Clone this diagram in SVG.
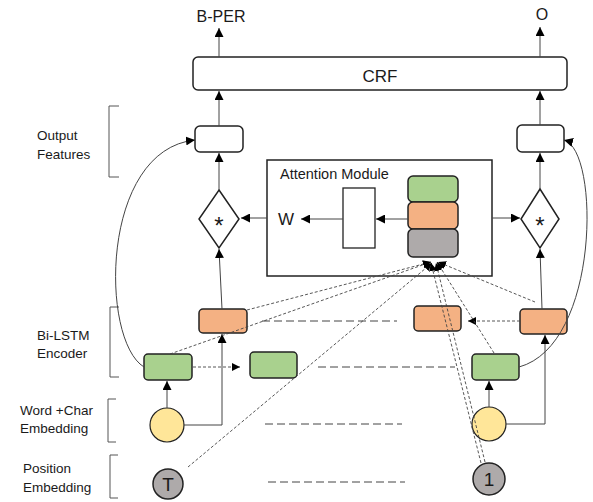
<svg xmlns="http://www.w3.org/2000/svg" width="593" height="502" viewBox="0 0 593 502">
<defs>
<marker id="ah" markerUnits="userSpaceOnUse" markerWidth="9" markerHeight="9" refX="9" refY="4.5" orient="auto"><path d="M0,0 L9,4.5 L0,9 z" fill="#000"/></marker>
<marker id="ahs" markerUnits="userSpaceOnUse" markerWidth="8" markerHeight="8" refX="8" refY="4" orient="auto"><path d="M0,0 L8,4 L0,8 z" fill="#000"/></marker>
<style>
text{font-family:"Liberation Sans",Arial,sans-serif;fill:#1a1a1a}
.lbl{font-size:13.5px}
.box{fill:#fff;stroke:#222;stroke-width:1.5}
.g{fill:#A9D18E;stroke:#222;stroke-width:1.5}
.o{fill:#F4B183;stroke:#222;stroke-width:1.5}
.gy{fill:#AEAAAA;stroke:#222;stroke-width:1.5}
.y{fill:#FFE699;stroke:#222;stroke-width:1.2}
.ar{fill:none;stroke:#444;stroke-width:1;marker-end:url(#ah)}
.dar{fill:none;stroke:#444;stroke-width:0.9;stroke-dasharray:3 2;marker-end:url(#ahs)}
.lng{fill:none;stroke:#444;stroke-width:1;stroke-dasharray:8 4}
.br{fill:none;stroke:#555;stroke-width:1}
</style>
</defs>

<g id="labels">
<text class="lbl" x="37" y="140">Output</text>
<text class="lbl" x="37" y="159">Features</text>
<path class="br" d="M119,106 H109 V177 H119"/>
<text class="lbl" x="37" y="340">Bi-LSTM</text>
<text class="lbl" x="37" y="358">Encoder</text>
<path class="br" d="M119,307 H110 V377 H119"/>
<text class="lbl" x="20" y="415">Word +Char</text>
<text class="lbl" x="20" y="433">Embedding</text>
<path class="br" d="M116,399 H108 V442 H116"/>
<text class="lbl" x="23" y="473">Position</text>
<text class="lbl" x="23" y="492">Embedding</text>
<path class="br" d="M118,455 H110 V498 H118"/>
</g>

<g id="b-per"><text x="221" y="22" font-size="16" text-anchor="middle">B-PER</text></g>
<g id="o-label"><text x="542" y="20" font-size="16" text-anchor="middle">O</text></g>

<g id="crf">
<rect class="box" x="193" y="57" width="374" height="33" rx="5"/>
<text x="380" y="82" font-size="17" text-anchor="middle">CRF</text>
</g>

<g id="out-left"><rect class="box" x="195" y="126" width="48" height="26" rx="5"/></g>
<g id="out-right"><rect class="box" x="517" y="125" width="47" height="27" rx="5"/></g>

<g id="mult-left">
<path class="box" d="M219,190 L239,219 L219,248 L199,219 z"/>
<text x="219" y="234" font-size="24" text-anchor="middle">*</text>
</g>
<g id="mult-right">
<path class="box" d="M540,189 L559,219 L540,248 L521,219 z"/>
<text x="540" y="234" font-size="24" text-anchor="middle">*</text>
</g>

<g id="attention">
<rect x="267" y="160" width="225" height="116" fill="#fff" stroke="#222" stroke-width="1.5"/>
<text x="280" y="179" font-size="14.5">Attention Module</text>
<text x="278" y="225" font-size="17">W</text>
<rect x="343" y="188" width="32" height="60" fill="#fff" stroke="#222" stroke-width="1.3"/>
<rect class="g" x="408" y="176" width="50" height="26" rx="5"/>
<rect class="o" x="408" y="202" width="50" height="27" rx="5"/>
<rect class="gy" x="408" y="229" width="50" height="28" rx="5"/>
</g>

<g id="lstm-b-left"><rect class="o" x="199" y="309" width="48" height="24" rx="4"/></g>
<g id="lstm-b-mid"><rect class="o" x="414" y="306" width="47" height="25" rx="4"/></g>
<g id="lstm-b-right"><rect class="o" x="520" y="309" width="47" height="25" rx="4"/></g>
<g id="lstm-f-left"><rect class="g" x="144" y="354" width="48" height="26" rx="4"/></g>
<g id="lstm-f-mid"><rect class="g" x="250" y="352" width="47" height="26" rx="4"/></g>
<g id="lstm-f-right"><rect class="g" x="472" y="354" width="47" height="26" rx="4"/></g>

<g id="emb-left"><circle class="y" cx="167" cy="425" r="17"/></g>
<g id="emb-right"><circle class="y" cx="489" cy="424" r="17"/></g>

<g id="pos-t">
<circle class="gy" cx="168" cy="484" r="15"/>
<text x="168" y="491" font-size="19" text-anchor="middle">T</text>
</g>
<g id="pos-1">
<circle class="gy" cx="489" cy="479" r="16"/>
<text x="489" y="486" font-size="19" text-anchor="middle">1</text>
</g>

<g id="connectors">
<path class="ar" d="M219,57 V28"/>
<path class="ar" d="M540,57 V27"/>
<path class="ar" d="M219,126 V91"/>
<path class="ar" d="M540,125 V91"/>
<path class="ar" d="M219,190 V153"/>
<path class="ar" d="M540,189 V153"/>
<path class="ar" d="M267,218 H241"/>
<path class="ar" d="M492,218 H520"/>
<path class="ar" d="M343,219 H301"/>
<path class="ar" d="M408,219 H376"/>
<path class="ar" d="M222,309 L219,249"/>
<path class="ar" d="M542,309 L540,249"/>
<path class="ar" d="M144,367 C100,340 100,150 195,140"/>
<path class="ar" d="M519,367 C600,345 600,150 564,140"/>
<path class="ar" d="M167,408 V381"/>
<path class="ar" d="M184,425 H222 V334"/>
<path class="ar" d="M489,407 V381"/>
<path class="ar" d="M506,424 H545 V335"/>
<path class="dar" d="M193,367 H240"/>
<path class="dar" d="M520,321 H468"/>
<path class="lng" d="M262,321 H397"/>
<path class="lng" d="M318,367 H455"/>
<path class="lng" d="M265,424 H402"/>
<path class="lng" d="M268,482 H405"/>
<path class="dar" d="M247,310 L431,262"/>
<path class="dar" d="M170,354 L431,262"/>
<path class="dar" d="M188,467 L432,263"/>
<path class="dar" d="M481,463 L431,263"/>
<path class="dar" d="M485,462 L436,263"/>
<path class="dar" d="M494,353 L437,262"/>
<path class="dar" d="M535,302 L438,262"/>
</g>
</svg>
